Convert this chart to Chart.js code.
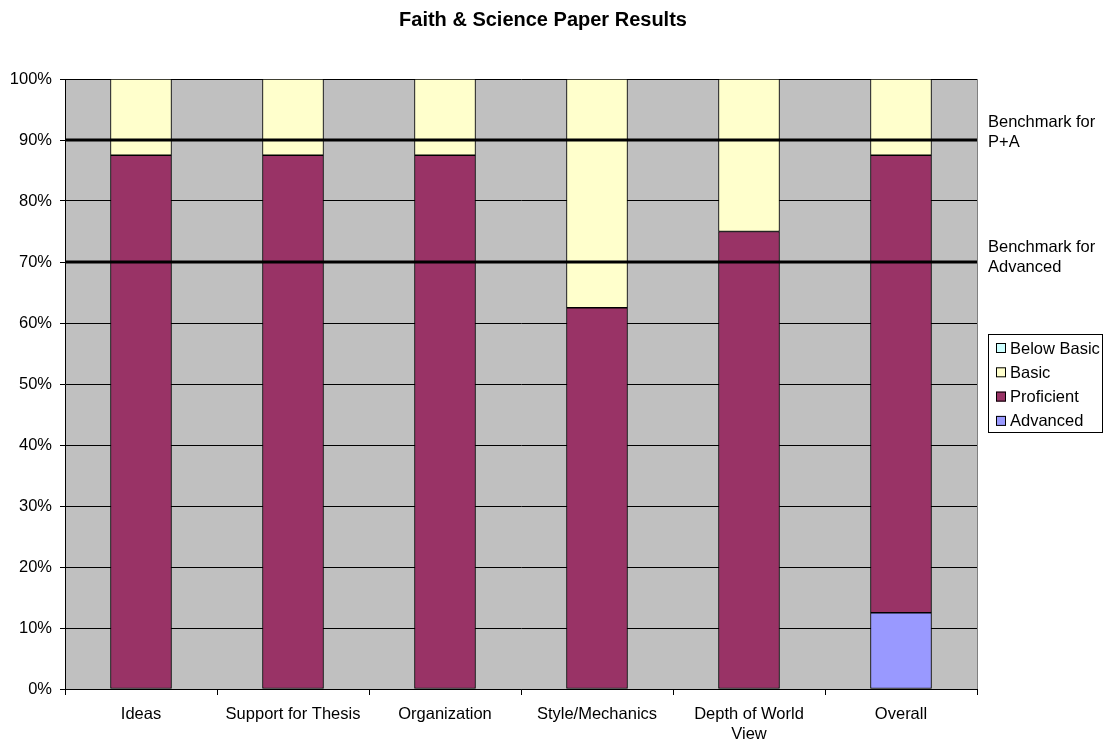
<!DOCTYPE html>
<html><head><meta charset="utf-8">
<script src="https://cdn.jsdelivr.net/npm/chart.js@4/dist/chart.umd.min.js"></script>
<style>html,body{margin:0;padding:0;background:#fff}#wrap{width:1104px;height:742px}</style>
</head><body><div id="wrap"><canvas id="c" width="1104" height="742"></canvas></div>
<script>
const categories = ["Ideas","Support for Thesis","Organization","Style/Mechanics",["Depth of World","View"],"Overall"];
const advanced   = [null, null, null, null, null, 12.5];
const proficient = [87.5, 87.5, 87.5, 62.5, 75, 75];
const basic      = [12.5, 12.5, 12.5, 37.5, 25, 12.5];
const belowBasic = [null, null, null, null, null, null];
const benchmarkValues = [90, 70];
const benchmarkLabels = [["Benchmark for","P+A"],["Benchmark for","Advanced"]];
const yTicks = [0,10,20,30,40,50,60,70,80,90,100];
const legendItems = [["Below Basic","#CCFFFF"],["Basic","#FFFFCC"],["Proficient","#993366"],["Advanced","#9999FF"]];
const FONT = "'Liberation Sans', Arial, sans-serif";
const FS = 16.5;

const custom = {
  id: 'custom',
  beforeDraw(chart) {
    const a = chart.chartArea, ctx = chart.ctx;
    ctx.save();
    ctx.fillStyle = '#C0C0C0';
    ctx.fillRect(a.left, a.top, a.right - a.left, a.bottom - a.top);
    ctx.strokeStyle = '#808080'; ctx.lineWidth = 1;
    ctx.beginPath(); ctx.moveTo(a.right + 0.5, a.top); ctx.lineTo(a.right + 0.5, a.bottom); ctx.stroke();
    ctx.restore();
  },
  afterDatasetsDraw(chart) {
    const a = chart.chartArea, ctx = chart.ctx, y = chart.scales.y;
    ctx.save();
    ctx.strokeStyle = '#000'; ctx.lineWidth = 3;
    const offs = [-18, -15];
    benchmarkValues.forEach((v, i) => {
      const py = y.getPixelForValue(v);
      ctx.beginPath(); ctx.moveTo(a.left, py); ctx.lineTo(a.right, py); ctx.stroke();
      ctx.fillStyle = '#000'; ctx.font = FS + 'px ' + FONT; ctx.textBaseline = 'middle'; ctx.textAlign = 'left';
      benchmarkLabels[i].forEach((t, k) => ctx.fillText(t, a.right + 11, py + offs[i] + k * 20));
    });
    // title
    ctx.font = 'bold 20px ' + FONT; ctx.textAlign = 'center'; ctx.textBaseline = 'middle';
    ctx.fillText('Faith & Science Paper Results', 543, 20);
    // legend
    const lx = 988, ly = 334, lw = 115, lh = 98;
    ctx.fillStyle = '#fff'; ctx.fillRect(lx, ly, lw, lh);
    ctx.strokeStyle = '#000'; ctx.lineWidth = 1;
    ctx.strokeRect(lx + 0.5, ly + 0.5, lw - 1, lh);
    ctx.font = FS + 'px ' + FONT; ctx.textAlign = 'left'; ctx.textBaseline = 'middle';
    legendItems.forEach(([t, c], k) => {
      const cy = ly + 14 + k * 24.3;
      ctx.fillStyle = c; ctx.fillRect(lx + 8, cy - 5, 10, 10);
      ctx.strokeStyle = '#000'; ctx.strokeRect(lx + 8.5, cy - 4.5, 9, 9);
      ctx.fillStyle = '#000'; ctx.fillText(t, lx + 22, cy + 1);
    });
    ctx.restore();
  }
};

const ds = (label, data, color) => ({label, data, backgroundColor: color, borderColor: '#000', borderWidth: 1, barThickness: 61, borderSkipped: false});

new Chart(document.getElementById('c'), {
  type: 'bar',
  data: { labels: categories, datasets: [
    ds('Advanced', advanced, '#9999FF'),
    ds('Proficient', proficient, '#993366'),
    ds('Basic', basic, '#FFFFCC'),
    ds('Below Basic', belowBasic, '#CCFFFF')
  ]},
  options: {
    responsive: false, animation: false, devicePixelRatio: 1,
    layout: { padding: { left: 0, top: 79, right: 127, bottom: 0 } },
    plugins: { legend: { display: false }, title: { display: false }, tooltip: { enabled: false } },
    scales: {
      x: {
        stacked: true,
        grid: { offset: true, drawOnChartArea: false, drawTicks: true, tickLength: 6, color: '#000' },
        border: { color: '#000', width: 1 },
        ticks: { color: '#000', font: { family: FONT, size: FS, lineHeight: 1.2 }, padding: 10, maxRotation: 0, autoSkip: false },
        afterFit(s) { s.height = 53; }
      },
      y: {
        stacked: true, min: 0, max: 100,
        afterBuildTicks(s) { s.ticks = yTicks.map(v => ({value: v})); },
        grid: { color: '#000', lineWidth: 1, tickLength: 5, drawTicks: true },
        border: { color: '#000', width: 1 },
        ticks: { color: '#000', font: { family: FONT, size: FS }, padding: 8, callback: v => v + '%' },
        afterFit(s) { s.width = 65; }
      }
    }
  },
  plugins: [custom]
});
</script></body></html>
